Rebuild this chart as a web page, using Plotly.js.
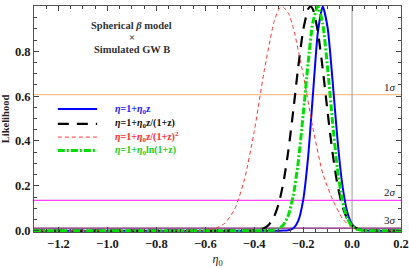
<!DOCTYPE html>
<html><head><meta charset="utf-8">
<script src="https://cdn.plot.ly/plotly-3.0.1.min.js"></script>
<style>html,body{margin:0;padding:0;background:#fff}</style>
</head><body><div id="chart" style="width:409px;height:268px"></div>
<script>
// ---- data ----
const seriesNames = [
  '<i>η</i>=1+<i>η</i><sub>0</sub>z',
  '<i>η</i>=1+<i>η</i><sub>0</sub>z/(1+z)',
  '<i>η</i>=1+<i>η</i><sub>0</sub>z/(1+z)<sup>2</sup>',
  '<i>η</i>=1+<i>η</i><sub>0</sub>ln(1+z)'
];
const etaBlue  = [-1.3,-0.30,-0.28,-0.26,-0.24,-0.22,-0.20,-0.18,-0.16,-0.14,-0.12,-0.10,-0.08,-0.06,-0.04,-0.02,0.00,0.02,0.04,0.06,0.08,0.2];
const likeBlue = [0,0,0.0003,0.0022,0.0111,0.0439,0.1353,0.3247,0.6065,0.8825,1.0,0.906,0.674,0.411,0.206,0.0847,0.0286,0.0079,0.0018,0.0003,0,0];

const etaBlack  = [-1.3,-0.46,-0.44,-0.42,-0.40,-0.38,-0.36,-0.34,-0.32,-0.30,-0.28,-0.26,-0.24,-0.22,-0.20,-0.18,-0.17,-0.16,-0.14,-0.12,-0.10,-0.08,-0.06,-0.04,-0.02,0.00,0.02,0.04,0.06,0.08,0.10,0.2];
const likeBlack = [0,0,0.0001,0.0004,0.0013,0.0039,0.0106,0.0262,0.0588,0.119,0.218,0.36,0.539,0.730,0.893,0.987,1.0,0.987,0.889,0.722,0.529,0.349,0.207,0.111,0.0536,0.0233,0.0091,0.0032,0.001,0.0002,0,0];

const etaRed  = [-1.3,-0.70,-0.66,-0.64,-0.60,-0.56,-0.52,-0.48,-0.44,-0.40,-0.36,-0.32,-0.30,-0.285,-0.26,-0.24,-0.20,-0.16,-0.12,-0.08,-0.04,0.00,0.04,0.08,0.2];
const likeRed = [0,0,0.0001,0.0004,0.0022,0.0094,0.033,0.0956,0.227,0.442,0.707,0.927,0.986,1.0,0.969,0.904,0.697,0.458,0.256,0.14,0.055,0.012,0.001,0,0];

const etaGreen  = [-1.3,-0.38,-0.36,-0.34,-0.32,-0.30,-0.28,-0.26,-0.24,-0.22,-0.20,-0.18,-0.16,-0.14,-0.12,-0.10,-0.08,-0.06,-0.04,-0.02,0.00,0.02,0.04,0.06,0.08,0.2];
const likeGreen = [0,0,0.0001,0.0006,0.0025,0.0088,0.0267,0.0697,0.1574,0.3064,0.514,0.744,0.929,1.0,0.923,0.726,0.487,0.278,0.1353,0.0561,0.0198,0.006,0.0015,0.0003,0,0];

const sigmaLevels = [0.6065, 0.1353, 0.0111];
const sigmaLabels = ['1<i>σ</i>', '2<i>σ</i>', '3<i>σ</i>'];
const xTicks = [-1.2,-1.0,-0.8,-0.6,-0.4,-0.2,0.0,0.2];
const xTickText = ['−1.2','−1.0','−0.8','−0.6','−0.4','−0.2','0.0','0.2'];
const yTicks = [0.0,0.2,0.4,0.6,0.8,1.0];
const yTickText = ['0.0','0.2','0.4','0.6','0.8','1.0'];
const titleLines = ['Spherical <i>β</i> model', '×', 'Simulated GW B'];

// ---- styles ----
const serif = 'Liberation Serif, Times New Roman, serif';
const sigmaColors = ['#f8c08c', '#ff44ff', '#7a1a6e'];
const lineStyles = [
  {color: '#0000ff', width: 2, dash: 'solid'},
  {color: '#000000', width: 2.2, dash: '11px,8px'},
  {color: '#ff3333', width: 1, dash: '4px,3px'},
  {color: '#00e000', width: 3, dash: '7px,2px,2px,2px'}
];
const textColors = ['#1a1aff', '#111111', '#ff2a2a', '#22cc22'];

const xs = [etaBlue, etaBlack, etaRed, etaGreen];
const ys = [likeBlue, likeBlack, likeRed, likeGreen];
const traces = xs.map((x, i) => ({
  type: 'scatter', mode: 'lines', hoverinfo: 'skip', showlegend: false,
  x: x, y: ys[i], name: seriesNames[i],
  line: Object.assign({shape: 'spline', smoothing: 0.6}, lineStyles[i])
}));

const shapes = sigmaLevels.map((v, i) => ({
  type: 'line', xref: 'paper', x0: 0, x1: 1, yref: 'y', y0: v, y1: v,
  line: {color: sigmaColors[i], width: 1.2}, layer: 'below'
}));
shapes.push({type: 'line', xref: 'x', x0: 0, x1: 0, yref: 'paper', y0: 0, y1: 1,
  line: {color: '#999', width: 1}, layer: 'below'});

const annotations = sigmaLevels.map((v, i) => ({
  xref: 'x', x: 0.124, yref: 'y', y: v, xanchor: 'left', yanchor: 'bottom', yshift: 0,
  text: sigmaLabels[i], showarrow: false, font: {family: serif, size: 11, color: '#222'}
}));
const titleY = [0.912, 0.86, 0.808];
titleLines.forEach((t, i) => annotations.push({
  xref: 'paper', x: 0.267, yref: 'paper', y: titleY[i], xanchor: 'center', yanchor: 'middle',
  text: '<b>' + t + '</b>', showarrow: false, font: {family: serif, size: 10.5, color: '#333'}
}));

// hand-placed legend (sample line + coloured label)
const legY = [0.544, 0.478, 0.420, 0.361];
legY.forEach((y, i) => {
  shapes.push({type: 'line', xref: 'paper', x0: 0.065, x1: 0.172, yref: 'paper', y0: y, y1: y,
    line: {color: lineStyles[i].color, width: lineStyles[i].width, dash: lineStyles[i].dash}});
  annotations.push({xref: 'paper', x: 0.215, yref: 'paper', y: y, xanchor: 'left', yanchor: 'middle',
    text: '<b>' + seriesNames[i] + '</b>', showarrow: false,
    font: {family: serif, size: 10, color: textColors[i]}});
});

const axisCommon = {
  showline: true, linecolor: '#555', linewidth: 1, mirror: 'allticks',
  ticks: 'inside', ticklen: 5, tickwidth: 1, tickcolor: '#444',
  showgrid: false, zeroline: false,
  tickfont: {family: serif, size: 12.5, color: '#1a1a1a', weight: 700}
};

const layout = {
  width: 409, height: 268,
  margin: {l: 34, r: 8, t: 6, b: 36},
  paper_bgcolor: '#fff', plot_bgcolor: '#fff',
  showlegend: false,
  xaxis: Object.assign({}, axisCommon, {
    range: [-1.3, 0.2], tickvals: xTicks, ticktext: xTickText.map(t => '<b>' + t + '</b>'),
    minor: {dtick: 0.05, tick0: 0, ticklen: 3, ticks: 'inside', tickcolor: '#444'},
    title: {text: '<i>η</i><sub>0</sub>', font: {family: serif, size: 12, color: '#222'}, standoff: 6}
  }),
  yaxis: Object.assign({}, axisCommon, {
    range: [-0.006, 1.002], tickvals: yTicks, ticktext: yTickText.map(t => '<b>' + t + '</b>'),
    minor: {dtick: 0.05, tick0: 0, ticklen: 3, ticks: 'inside', tickcolor: '#444'},
    title: {text: '<b>Likelihood</b>', font: {family: serif, size: 10.5, color: '#222'}, standoff: 3}
  }),
  shapes: shapes,
  annotations: annotations
};

Plotly.newPlot('chart', traces, layout, {staticPlot: true, displayModeBar: false});
</script></body></html>
